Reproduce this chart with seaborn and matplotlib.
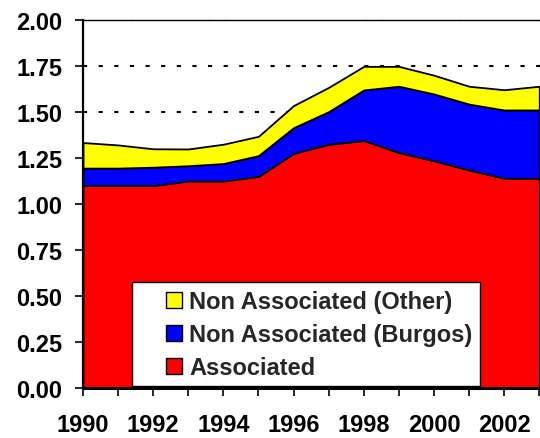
import matplotlib
matplotlib.use("Agg")
import matplotlib.pyplot as plt
from matplotlib.patches import Patch, Rectangle
import seaborn as sns

years = [1990, 1991, 1992, 1993, 1994, 1995, 1996, 1997, 1998, 1999, 2000, 2001, 2002, 2003]
associated = [1.10, 1.10, 1.10, 1.125, 1.125, 1.15, 1.275, 1.325, 1.345, 1.28, 1.235, 1.185, 1.14, 1.14]
burgos = [0.095, 0.095, 0.10, 0.083, 0.095, 0.113, 0.14, 0.177, 0.275, 0.36, 0.363, 0.358, 0.371, 0.371]
other = [0.139, 0.126, 0.10, 0.091, 0.105, 0.105, 0.12, 0.132, 0.128, 0.108, 0.102, 0.097, 0.11, 0.129]
series_names = ["Associated", "Non Associated (Burgos)", "Non Associated (Other)"]
series_colors = ["#FF0000", "#0000FF", "#FFFF00"]
yticks = [0.0, 0.25, 0.5, 0.75, 1.0, 1.25, 1.5, 1.75, 2.0]
xticks_major = [1990, 1992, 1994, 1996, 1998, 2000, 2002]

sns.set_theme(style="white")
plt.rcParams["font.family"] = ["Liberation Sans", "DejaVu Sans"]
plt.rcParams["font.weight"] = "bold"

fig = plt.figure(figsize=(5.4, 4.39), dpi=100)
ax = fig.add_axes([83 / 540, 50 / 439, 458 / 540, 368 / 439])

# dotted gridlines behind the areas
for v in yticks[1:]:
    ax.axhline(v, color="black", lw=1.5, linestyle=(0, (2.0, 5.5)), zorder=0)

ax.stackplot(years, associated, burgos, other, colors=series_colors,
             edgecolor="black", linewidth=1.3, zorder=2)

ax.set_xlim(1990, 2003.05)
ax.set_ylim(0, 2.0)
ax.set_yticks(yticks)
ax.set_yticklabels([f"{v:.2f}" for v in yticks])
ax.set_xticks(years)
ax.set_xticklabels([str(y) if y in xticks_major else "" for y in years])

ax.spines["right"].set_visible(False)
ax.spines["top"].set_linewidth(1.0)
ax.spines["top"].set_color("black")
ax.spines["left"].set_linewidth(1.6)
ax.spines["left"].set_color("black")
ax.spines["bottom"].set_linewidth(2.2)
ax.spines["bottom"].set_color("black")
for s in ["left", "bottom", "top"]:
    ax.spines[s].set_zorder(5)

ax.tick_params(axis="both", which="both", direction="out", length=6, width=1.2,
               color="black", labelsize=17, labelcolor="black")
ax.tick_params(axis="y", pad=9, left=True)
ax.tick_params(axis="x", pad=12, bottom=True)
for lab in ax.get_xticklabels() + ax.get_yticklabels():
    lab.set_fontweight("bold")

# legend frame
frame = Rectangle((0.107, 0.005), 0.76, 0.283, transform=ax.transAxes,
                  facecolor="white", edgecolor="black", linewidth=1.0, zorder=6)
ax.add_patch(frame)

handles = [Patch(facecolor=series_colors[i], edgecolor="black", linewidth=1.0, label=series_names[i])
           for i in [2, 1, 0]]
leg = ax.legend(handles=handles, loc="center left", bbox_to_anchor=((166 - 83) / 458, 0.145),
                borderaxespad=0, fontsize=17, frameon=False,
                handlelength=0.68, handleheight=0.68,
                handletextpad=0.3, labelspacing=0.42, borderpad=0.0)
leg.set_zorder(7)
for t in leg.get_texts():
    t.set_fontweight("bold")

fig.savefig("out.png", dpi=100)
